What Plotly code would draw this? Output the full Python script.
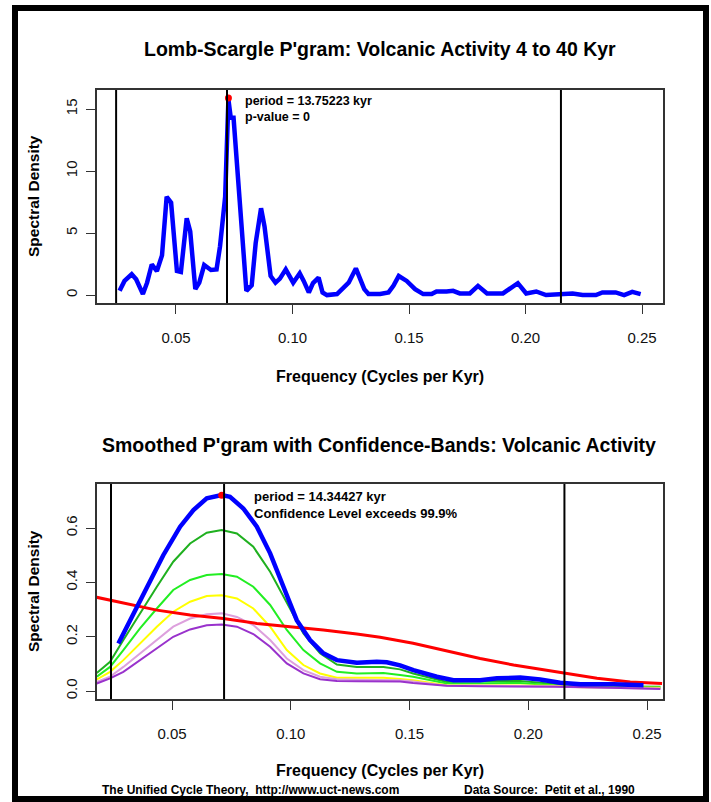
import plotly.graph_objects as go

# ---------------- data ----------------
top_freq = [0.0258, 0.0279, 0.031, 0.0329, 0.0358, 0.0376, 0.0396, 0.0418, 0.044, 0.046,
            0.0479, 0.0504, 0.0521, 0.0546, 0.0561, 0.0583, 0.06, 0.0621, 0.065, 0.0674,
            0.0689, 0.0711, 0.0725, 0.0735, 0.0747, 0.0759, 0.0778, 0.0802, 0.0825, 0.0842,
            0.0865, 0.088, 0.0906, 0.0927, 0.0946, 0.0971, 0.1003, 0.1031, 0.1048, 0.107,
            0.1088, 0.1112, 0.1129, 0.1148, 0.1191, 0.1212, 0.1241, 0.1272, 0.1287, 0.1308,
            0.1326, 0.1376, 0.1412, 0.1433, 0.1456, 0.149, 0.1526, 0.1561, 0.1597, 0.1618,
            0.1661, 0.1689, 0.1718, 0.1761, 0.1796, 0.1835, 0.1903, 0.1932, 0.1967, 0.2003,
            0.2046, 0.2088, 0.2145, 0.2202, 0.2245, 0.2302, 0.233, 0.2387, 0.2423, 0.2458,
            0.2494]
top_power = [0.34, 1.14, 1.68, 1.28, 0.08, 1.0, 2.47, 1.94, 3.2, 7.93,
             7.45, 1.94, 1.86, 6.2, 5.13, 0.48, 1.0, 2.42, 2.02, 2.07,
             3.93, 7.93, 15.78, 14.3, 14.3, 11.4, 6.07, 0.34, 0.8, 4.2,
             7.0, 5.53, 1.54, 1.0, 1.33, 2.07, 1.0, 1.76, 1.14, 0.21,
             0.96, 1.41, 0.21, 0.0, 0.08, 0.48, 1.0, 2.15, 1.54, 0.48,
             0.08, 0.08, 0.21, 0.74, 1.54, 1.14, 0.48, 0.08, 0.08, 0.29,
             0.29, 0.34, 0.13, 0.13, 0.74, 0.13, 0.13, 0.53, 0.96, 0.13,
             0.29, 0.0, 0.08, 0.13, 0.0, 0.0, 0.21, 0.21, 0.0, 0.26,
             0.08]
top_peak = (0.0725, 15.9)

band_freq = [0.0183, 0.0239, 0.0295, 0.0365, 0.0436, 0.0505, 0.0576, 0.0646, 0.0709, 0.0773,
             0.0842, 0.0913, 0.0983, 0.1053, 0.1123, 0.1194, 0.1278, 0.139, 0.146, 0.1515,
             0.1657, 0.1797, 0.1966, 0.2106, 0.2219, 0.2556]
band_999 = [0.067, 0.108, 0.188, 0.286, 0.384, 0.476, 0.543, 0.583, 0.593, 0.58,
            0.531, 0.439, 0.323, 0.212, 0.139, 0.098, 0.089, 0.089, 0.08, 0.065,
            0.034, 0.037, 0.037, 0.028, 0.018, 0.016]
band_99 = [0.053, 0.089, 0.151, 0.231, 0.304, 0.372, 0.409, 0.427, 0.431, 0.421,
           0.384, 0.317, 0.225, 0.151, 0.102, 0.071, 0.065, 0.067, 0.059, 0.053,
           0.028, 0.03, 0.03, 0.022, 0.015, 0.013]
band_95 = [0.043, 0.071, 0.114, 0.175, 0.237, 0.292, 0.329, 0.35, 0.353, 0.341,
           0.304, 0.237, 0.151, 0.096, 0.065, 0.049, 0.049, 0.049, 0.045, 0.04,
           0.022, 0.022, 0.022, 0.02, 0.014, 0.012]
band_90 = [0.034, 0.053, 0.089, 0.139, 0.188, 0.237, 0.267, 0.283, 0.286, 0.273,
           0.243, 0.188, 0.12, 0.077, 0.053, 0.044, 0.042, 0.041, 0.04, 0.035,
           0.02, 0.02, 0.02, 0.018, 0.013, 0.01]
band_80 = [0.028, 0.047, 0.071, 0.114, 0.157, 0.2, 0.227, 0.242, 0.245, 0.237,
           0.21, 0.163, 0.102, 0.065, 0.044, 0.037, 0.036, 0.035, 0.035, 0.03,
           0.02, 0.018, 0.018, 0.016, 0.015, 0.008]

smooth_freq = [0.0274, 0.0337, 0.04, 0.0463, 0.0534, 0.059, 0.0646, 0.0709, 0.0744, 0.08,
               0.0857, 0.0913, 0.0969, 0.1025, 0.1081, 0.1137, 0.1194, 0.1278, 0.1362, 0.1404,
               0.146, 0.1516, 0.1615, 0.1685, 0.1797, 0.1868, 0.1966, 0.205, 0.2134, 0.2219,
               0.2359, 0.2485]
smooth_power = [0.175, 0.286, 0.396, 0.5, 0.605, 0.666, 0.709, 0.721, 0.715, 0.672,
                0.605, 0.507, 0.384, 0.261, 0.188, 0.139, 0.114, 0.104, 0.108, 0.106,
                0.095, 0.077, 0.053, 0.04, 0.04, 0.047, 0.05, 0.043, 0.031, 0.025,
                0.025, 0.022]
smooth_peak = (0.0709, 0.721)

red_freq = [0.0183, 0.0295, 0.0436, 0.0576, 0.0716, 0.0857, 0.0997, 0.1137, 0.1278, 0.1376,
            0.1515, 0.1657, 0.1797, 0.1938, 0.2078, 0.2152, 0.2289, 0.2429, 0.2563]
red_power = [0.345, 0.325, 0.298, 0.28, 0.267, 0.249, 0.237, 0.225, 0.21, 0.198,
             0.176, 0.148, 0.12, 0.096, 0.077, 0.067, 0.047, 0.034, 0.028]

vlines = [0.0243, 0.0719, 0.2152]

x_ticks = [0.05, 0.10, 0.15, 0.20, 0.25]
x_ticktext = ["0.05", "0.10", "0.15", "0.20", "0.25"]
top_yticks = [0, 5, 10, 15]
bot_yticks = [0.0, 0.2, 0.4, 0.6]
bot_yticktext = ["0.0", "0.2", "0.4", "0.6"]

# ---------------- figure ----------------
W, H = 711, 802
FONT = "Liberation Sans, Arial, sans-serif"

def px_x(p):
    return p / W

def px_y(p):
    return 1 - p / H

fig = go.Figure()

fig.add_trace(go.Scatter(x=top_freq, y=top_power, mode="lines",
                         line=dict(color="#0000ff", width=4.5), xaxis="x", yaxis="y",
                         showlegend=False, hoverinfo="skip"))
fig.add_trace(go.Scatter(x=[top_peak[0]], y=[top_peak[1]], mode="markers",
                         marker=dict(color="#ff0000", size=7), xaxis="x", yaxis="y",
                         showlegend=False))

band_colors = ["#1fb01f", "#22ee22", "#ffff00", "#dda0dd", "#9932cc"]
for vals, col in zip([band_999, band_99, band_95, band_90, band_80], band_colors):
    fig.add_trace(go.Scatter(x=band_freq, y=vals, mode="lines",
                             line=dict(color=col, width=2), xaxis="x2", yaxis="y2",
                             showlegend=False, hoverinfo="skip"))
fig.add_trace(go.Scatter(x=red_freq, y=red_power, mode="lines",
                         line=dict(color="#ff0000", width=3), xaxis="x2", yaxis="y2",
                         showlegend=False, hoverinfo="skip"))
fig.add_trace(go.Scatter(x=smooth_freq, y=smooth_power, mode="lines",
                         line=dict(color="#0000ff", width=4.5), xaxis="x2", yaxis="y2",
                         showlegend=False, hoverinfo="skip"))
fig.add_trace(go.Scatter(x=[smooth_peak[0]], y=[smooth_peak[1]], mode="markers",
                         marker=dict(color="#ff0000", size=7), xaxis="x2", yaxis="y2",
                         showlegend=False))

axis_common = dict(showline=True, linecolor="#333333", linewidth=1.5, mirror=True,
                   ticks="outside", ticklen=9, tickcolor="#333333", tickwidth=1.2,
                   showgrid=False, zeroline=False,
                   tickfont=dict(family=FONT, size=15, color="#111111"))

xdom = [px_x(97), px_x(663)]
fig.update_layout(
    width=W, height=H, margin=dict(l=0, r=0, t=0, b=0),
    paper_bgcolor="white", plot_bgcolor="white",
    xaxis=dict(domain=xdom, range=[0.0161, 0.259], tickvals=x_ticks, ticktext=x_ticktext,
               anchor="y", ticklabelstandoff=11, **axis_common),
    yaxis=dict(domain=[px_y(303), px_y(90)], range=[-0.64, 16.54], tickvals=top_yticks,
               tickangle=-90, anchor="x", ticklabelstandoff=3, **axis_common),
    xaxis2=dict(domain=xdom, range=[0.0184, 0.2567], tickvals=x_ticks, ticktext=x_ticktext,
                anchor="y2", ticklabelstandoff=11, **axis_common),
    yaxis2=dict(domain=[px_y(699), px_y(484)], range=[-0.029, 0.762], tickvals=bot_yticks,
                ticktext=bot_yticktext, tickangle=-90, anchor="x2", ticklabelstandoff=3,
                **axis_common),
)

shapes = []
for v in vlines:
    shapes.append(dict(type="line", xref="x", yref="y domain", x0=v, x1=v, y0=0, y1=1,
                       line=dict(color="black", width=2)))
    shapes.append(dict(type="line", xref="x2", yref="y2 domain", x0=v, x1=v, y0=0, y1=1,
                       line=dict(color="black", width=2)))
# outer frame
shapes.append(dict(type="rect", xref="paper", yref="paper",
                   x0=px_x(15), x1=px_x(706), y0=px_y(799), y1=px_y(8),
                   line=dict(color="black", width=6), fillcolor="rgba(0,0,0,0)"))
fig.update_layout(shapes=shapes)

bold = dict(family=FONT, color="#000000")
C = dict(xanchor="center", yanchor="middle", showarrow=False)
ann = []
ann.append(dict(text="<b>Lomb-Scargle P'gram: Volcanic Activity 4 to 40 Kyr</b>", xref="paper",
                yref="paper", x=px_x(380), y=px_y(49), font=dict(size=19.5, **bold), **C))
ann.append(dict(text="<b>Smoothed P'gram with Confidence-Bands: Volcanic Activity</b>",
                xref="paper", yref="paper", x=px_x(379), y=px_y(445),
                font=dict(size=19.5, **bold), **C))
for yy in (376, 770):
    ann.append(dict(text="<b>Frequency (Cycles per Kyr)</b>", xref="paper", yref="paper",
                    x=px_x(380), y=px_y(yy), font=dict(size=16, **bold), **C))
for yy in (196, 591):
    ann.append(dict(text="<b>Spectral Density</b>", xref="paper", yref="paper",
                    x=px_x(33), y=px_y(yy), textangle=-90,
                    font=dict(size=15.5, **bold), **C))
L = dict(xanchor="left", yanchor="middle", align="left", showarrow=False)
ann.append(dict(text="<b>period = 13.75223 kyr</b><br><b>p-value = 0</b>", xref="x", yref="y",
                x=0.0786, y=15.0, font=dict(size=12.5, **bold), **L))
ann.append(dict(text="<b>period = 14.34427 kyr</b><br><b>Confidence Level exceeds 99.9%</b>",
                xref="x2", yref="y2", x=0.0837, y=0.6865, font=dict(size=13, **bold), **L))
ann.append(dict(text="<b>The Unified Cycle Theory,  http://www.uct-news.com</b>", xref="paper",
                yref="paper", x=px_x(100), y=px_y(790), font=dict(size=12, **bold), **L))
ann.append(dict(text="<b>Data Source:  Petit et al., 1990</b>", xref="paper",
                yref="paper", x=px_x(462), y=px_y(790), font=dict(size=12, **bold), **L))
fig.update_layout(annotations=ann)

fig.write_html("out.html")
